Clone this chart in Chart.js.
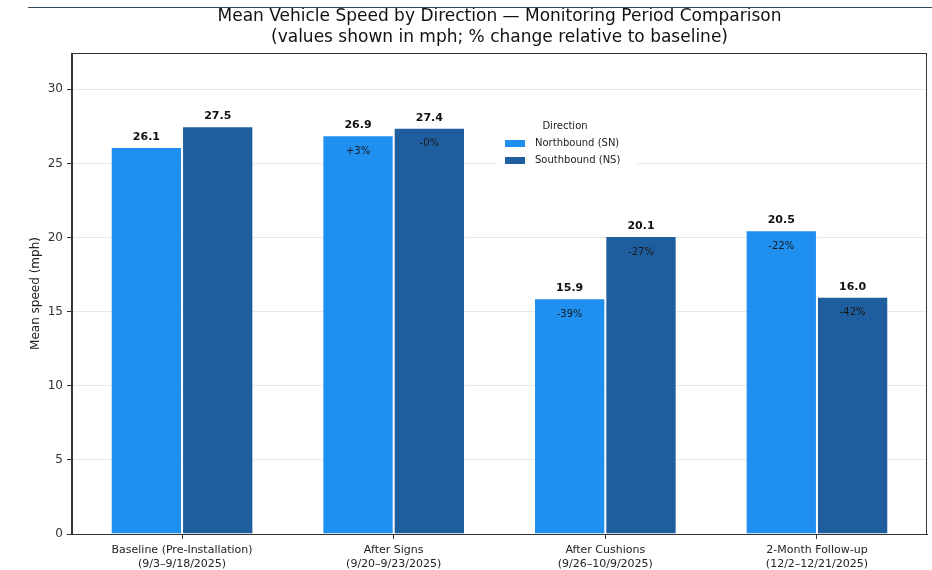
<!DOCTYPE html>
<html>
<head>
<meta charset="utf-8">
<script src="https://cdn.jsdelivr.net/npm/chart.js@4.4.1/dist/chart.umd.min.js"></script>
<style>
  html, body { margin: 0; padding: 0; background: #fff; }
  #wrap { position: relative; width: 932px; height: 570px; }
  #topline { position: absolute; left: 28px; right: 0; top: 7px; height: 1px; background: #34485c; }
</style>
</head>
<body>
<div id="wrap">
  <div id="topline"></div>
  <canvas id="speedChart" width="932" height="570"></canvas>
</div>
<script>
// Data
const periods = [
    ['Baseline (Pre-Installation)', '(9/3–9/18/2025)'],
    ['After Signs', '(9/20–9/23/2025)'],
    ['After Cushions', '(9/26–10/9/2025)'],
    ['2-Month Follow-up', '(12/2–12/21/2025)']
];
const northbound = [26.1, 26.9, 15.9, 20.5];
const southbound = [27.5, 27.4, 20.1, 16.0];
const northChange = ['', '+3%', '-39%', '-22%'];
const southChange = ['', '-0%', '-27%', '-42%'];
const yTicks = [0, 5, 10, 15, 20, 25, 30];
const changeLabels = [northChange, southChange];

Chart.defaults.font.family = '"DejaVu Sans", sans-serif';

// posisi kategori 0..3 pada sumbu linear
const toPoints = arr => arr.map((v, i) => ({ x: i, y: v }));

// Judul, label nilai, legenda, bingkai
const extras = {
    id: 'extras',
    afterDatasetsDraw(chart) {
        const ctx = chart.ctx;
        ctx.save();
        ctx.textAlign = 'center';
        ctx.textBaseline = 'middle';
        chart.data.datasets.forEach((ds, i) => {
            const meta = chart.getDatasetMeta(i);
            meta.data.forEach((bar, j) => {
                ctx.fillStyle = '#111';
                ctx.font = 'bold 11px "DejaVu Sans"';
                ctx.fillText(ds.data[j].y.toFixed(1), bar.x, bar.y - 10);
                const pct = changeLabels[i][j];
                if (pct) {
                    ctx.fillStyle = '#1a1a1a';
                    ctx.font = '10px "DejaVu Sans"';
                    ctx.fillText(pct, bar.x, bar.y + 16);
                }
            });
        });
        ctx.restore();
    },
    afterDraw(chart) {
        const ctx = chart.ctx;
        const a = chart.chartArea;
        ctx.save();
        // bingkai
        ctx.strokeStyle = '#333';
        ctx.lineWidth = 1;
        ctx.strokeRect(Math.round(a.left) - 0.5, Math.round(a.top) + 0.5,
            Math.round(a.right - a.left), Math.round(a.bottom - a.top));
        // judul
        const cx = (a.left + a.right) / 2;
        ctx.fillStyle = '#111';
        ctx.font = '17px "DejaVu Sans"';
        ctx.textAlign = 'center';
        ctx.textBaseline = 'middle';
        ctx.fillText('Mean Vehicle Speed by Direction — Monitoring Period Comparison', cx, 17);
        ctx.fillText('(values shown in mph; % change relative to baseline)', cx, 38);
        // legenda
        const lx = a.left + 425, ly = a.top + 60;
        ctx.fillStyle = '#fff';
        ctx.fillRect(lx, ly, 140, 58);
        ctx.fillStyle = '#222';
        ctx.font = '10px "DejaVu Sans"';
        ctx.fillText('Direction', lx + 68, ly + 13);
        ctx.textAlign = 'left';
        chart.data.datasets.forEach((ds, i) => {
            const y = ly + 30 + i * 17;
            ctx.fillStyle = ds.backgroundColor;
            ctx.fillRect(lx + 8, y - 3, 20, 7);
            ctx.fillStyle = '#222';
            ctx.fillText(ds.label, lx + 38, y);
        });
        ctx.restore();
    }
};

const chart = new Chart(document.getElementById('speedChart').getContext('2d'), {
    type: 'bar',
    data: {
        datasets: [
            {
                label: 'Northbound (SN)',
                data: toPoints(northbound),
                backgroundColor: '#1f8ff0',
                borderColor: 'rgba(255,255,255,0.55)',
                borderWidth: 1,
                categoryPercentage: 0.674,
                barPercentage: 1.0
            },
            {
                label: 'Southbound (NS)',
                data: toPoints(southbound),
                backgroundColor: '#1f5e9e',
                borderColor: 'rgba(255,255,255,0.55)',
                borderWidth: 1,
                categoryPercentage: 0.674,
                barPercentage: 1.0
            }
        ]
    },
    options: {
        responsive: false,
        animation: false,
        layout: { padding: { top: 53, right: 5, left: 0, bottom: 0 } },
        plugins: {
            legend: { display: false },
            title: { display: false },
            tooltip: { enabled: false }
        },
        scales: {
            x: {
                type: 'linear',
                min: -0.52,
                max: 3.52,
                offset: false,
                afterFit: s => { s.height = 36; },
                afterBuildTicks: s => { s.ticks = periods.map((p, i) => ({ value: i })); },
                border: { color: '#333' },
                grid: { offset: false, drawOnChartArea: false, tickColor: '#333', tickLength: 5 },
                ticks: {
                    color: '#222',
                    font: { size: 11, lineHeight: 1.3 },
                    padding: 4,
                    maxRotation: 0,
                    autoSkip: false,
                    callback: v => periods[v]
                }
            },
            y: {
                min: 0,
                max: 32.45,
                afterFit: s => { s.width = 72; },
                afterBuildTicks: s => { s.ticks = yTicks.map(v => ({ value: v })); },
                border: { color: '#333' },
                grid: { color: '#e8e8e8', tickColor: '#333', tickLength: 5 },
                ticks: { color: '#333', font: { size: 12 }, padding: 4 },
                title: {
                    display: true,
                    text: 'Mean speed (mph)',
                    color: '#222',
                    font: { size: 12 },
                    padding: { top: 29 }
                }
            }
        }
    },
    plugins: [extras]
});
</script>
</body>
</html>
